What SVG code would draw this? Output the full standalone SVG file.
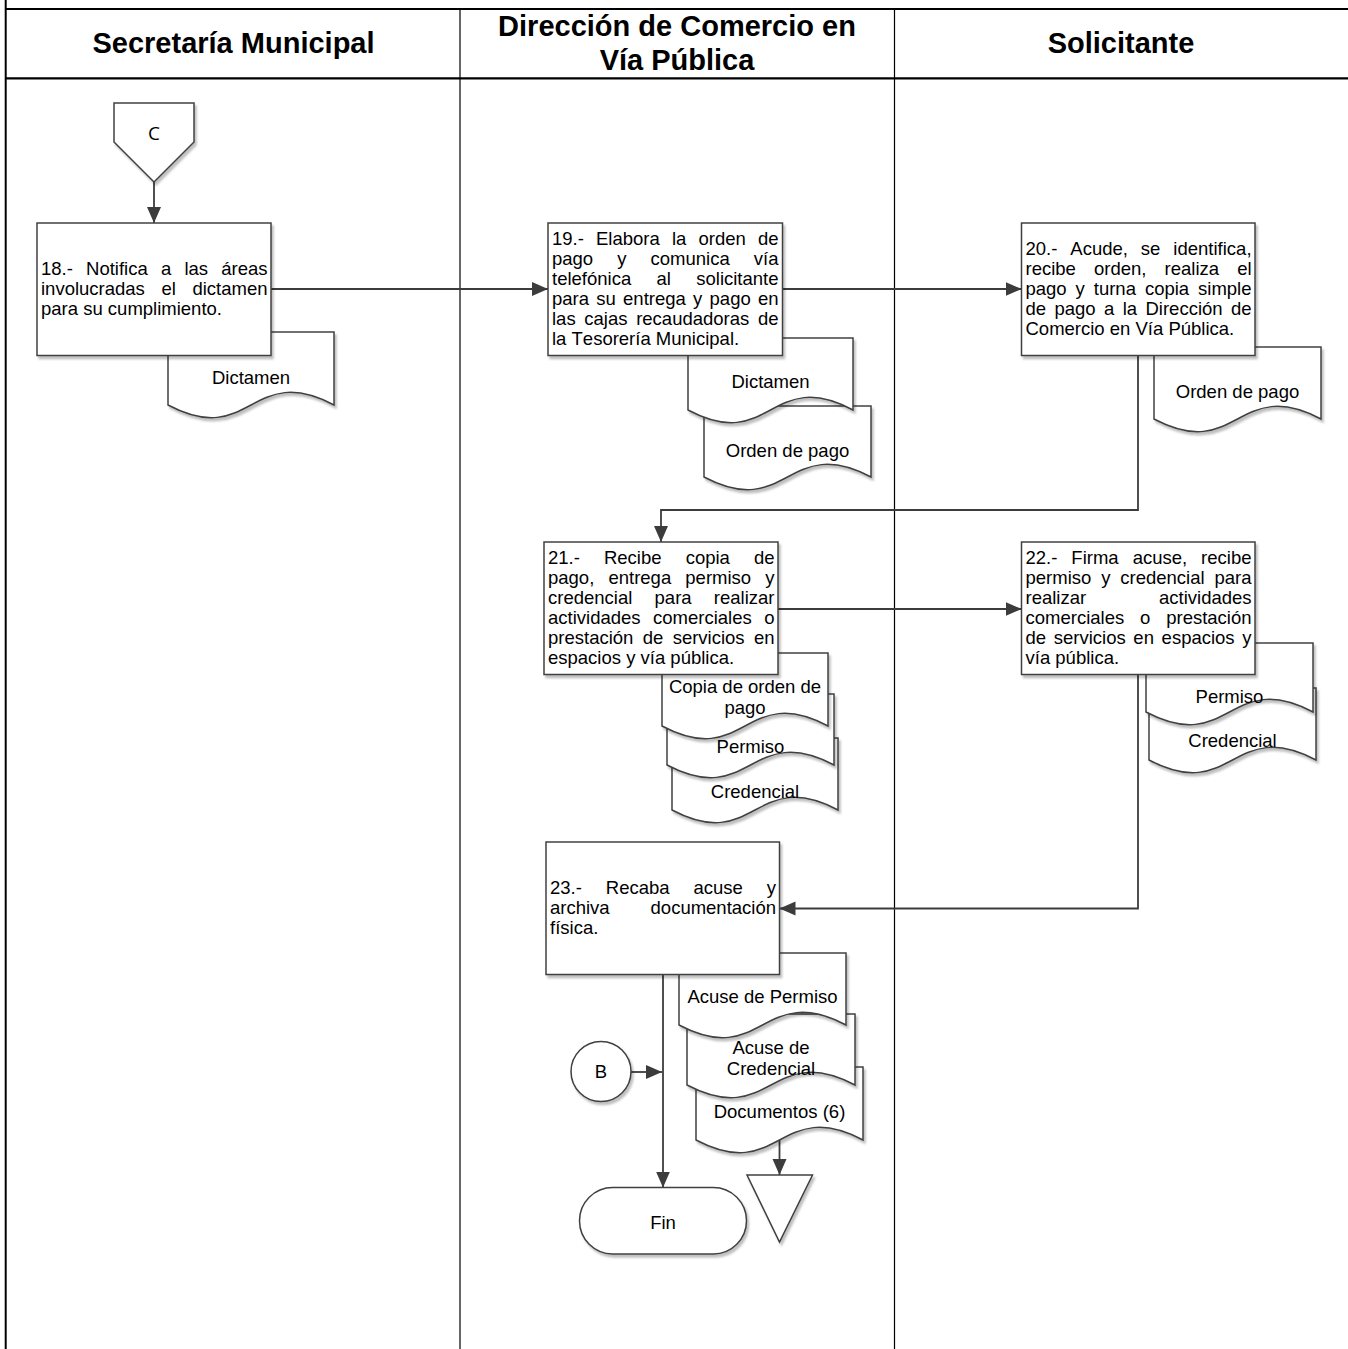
<svg xmlns="http://www.w3.org/2000/svg" width="1348" height="1349" viewBox="0 0 1348 1349">
<style>
.frame{stroke:#000;fill:none}
.shape{fill:#fff;stroke:#404040;stroke-width:1.5;filter:url(#sh)}
.conn{fill:none;stroke:#3c3c3c;stroke-width:1.8}
.t{font-family:"Liberation Sans",Arial,sans-serif;font-size:18.5px;fill:#000;font-kerning:none}
.c{text-anchor:middle}
.h{font-family:"Liberation Sans",Arial,sans-serif;font-weight:bold;font-size:29px;fill:#000;text-anchor:middle;font-kerning:none}
.cl{font-family:"Open Sans","Noto Sans",sans-serif;font-size:19px;fill:#000;text-anchor:middle}
</style>
<defs>
<filter id="sh" x="-10%" y="-10%" width="125%" height="125%">
<feDropShadow dx="2" dy="3" stdDeviation="1.2" flood-color="#000" flood-opacity="0.25"/>
</filter>
<marker id="ah" markerUnits="userSpaceOnUse" markerWidth="17" markerHeight="15" refX="16" refY="7" orient="auto">
<path d="M0,0 L16,7 L0,14 Z" fill="#3c3c3c"/>
</marker>
</defs>
<rect width="1348" height="1349" fill="#fff"/>
<g id="frame">
<line class="frame" x1="5.7" y1="0" x2="5.7" y2="1349" stroke-width="2"/>
<line class="frame" x1="5" y1="9" x2="1348" y2="9" stroke-width="2"/>
<line class="frame" x1="5" y1="78.3" x2="1348" y2="78.3" stroke-width="2.2"/>
<line class="frame" x1="460" y1="9" x2="460" y2="1349" stroke-width="1.2"/>
<line class="frame" x1="894.5" y1="9" x2="894.5" y2="1349" stroke-width="1.2"/>
<text class="h" x="233.5" y="53">Secretaría Municipal</text>
<text class="h" x="677" y="36">Dirección de Comercio en</text>
<text class="h" x="677" y="70">Vía Pública</text>
<text class="h" x="1121" y="53">Solicitante</text>
</g>
<g id="connectors">
<path class="conn" d="M154,182 V223" marker-end="url(#ah)"/>
<path class="conn" d="M271,289 H548" marker-end="url(#ah)"/>
<path class="conn" d="M782.5,289 H1021.5" marker-end="url(#ah)"/>
<path class="conn" d="M1138,355.5 V510 H661 V542" marker-end="url(#ah)"/>
<path class="conn" d="M778,609 H1021.5" marker-end="url(#ah)"/>
<path class="conn" d="M1138,674.5 V908.5 H779.5" marker-end="url(#ah)"/>
<path class="conn" d="M663,974.5 V1187.5" marker-end="url(#ah)"/>
<path class="conn" d="M631,1072 H662" marker-end="url(#ah)"/>
<path class="conn" d="M779.5,1140 V1175" marker-end="url(#ah)"/>
</g>
<g id="conC">
<path class="shape" d="M114,103 H194 V142 L154,182 L114,142 Z"/>
<text class="cl" x="154" y="140">C</text>
</g>
<g id="doc18">
<path class="shape" d="M168,332 H334 V405 C251,361 251,449 168,405 Z"/>
<text class="t c" x="251" y="383.5">Dictamen</text>
</g>
<g id="n18">
<rect class="shape" x="37" y="223" width="234" height="132.5"/>
<text class="t" x="41" y="275" style="word-spacing:8.05px">18.- Notifica a las áreas</text>
<text class="t" x="41" y="295" style="word-spacing:11.46px">involucradas el dictamen</text>
<text class="t" x="41" y="315">para su cumplimiento.</text>
</g>
<g id="doc19b">
<path class="shape" d="M704,406 H871 V477 C787.5,433 787.5,521 704,477 Z"/>
<text class="t c" x="787.5" y="456.5">Orden de pago</text>
</g>
<g id="doc19a">
<path class="shape" d="M688,338 H853 V410 C770.5,366 770.5,454 688,410 Z"/>
<text class="t c" x="770.5" y="388">Dictamen</text>
</g>
<g id="n19">
<rect class="shape" x="548" y="223" width="234.5" height="132.5"/>
<text class="t" x="552" y="245" style="word-spacing:7.01px">19.- Elabora la orden de</text>
<text class="t" x="552" y="265" style="word-spacing:18.95px">pago y comunica vía</text>
<text class="t" x="552" y="285" style="word-spacing:20.19px">telefónica al solicitante</text>
<text class="t" x="552" y="305" style="word-spacing:2.11px">para su entrega y pago en</text>
<text class="t" x="552" y="325" style="word-spacing:3.52px">las cajas recaudadoras de</text>
<text class="t" x="552" y="345">la Tesorería Municipal.</text>
</g>
<g id="doc20">
<path class="shape" d="M1154,347 H1321 V419 C1237.5,375 1237.5,463 1154,419 Z"/>
<text class="t c" x="1237.5" y="398">Orden de pago</text>
</g>
<g id="n20">
<rect class="shape" x="1021.5" y="223" width="233.5" height="132.5"/>
<text class="t" x="1025.5" y="255" style="word-spacing:7.81px">20.- Acude, se identifica,</text>
<text class="t" x="1025.5" y="275" style="word-spacing:12.96px">recibe orden, realiza el</text>
<text class="t" x="1025.5" y="295" style="word-spacing:3.8px">pago y turna copia simple</text>
<text class="t" x="1025.5" y="315" style="word-spacing:3.25px">de pago a la Dirección de</text>
<text class="t" x="1025.5" y="335">Comercio en Vía Pública.</text>
</g>
<g id="doc21c">
<path class="shape" d="M672,738 H838 V810 C755,766 755,854 672,810 Z"/>
<text class="t c" x="755" y="798">Credencial</text>
</g>
<g id="doc21b">
<path class="shape" d="M667,694 H834 V765 C750.5,721 750.5,809 667,765 Z"/>
<text class="t c" x="750.5" y="753">Permiso</text>
</g>
<g id="doc21a">
<path class="shape" d="M662,653 H828 V726 C745,682 745,770 662,726 Z"/>
<text class="t c" x="745" y="692.5">Copia de orden de</text>
<text class="t c" x="745" y="713.5">pago</text>
</g>
<g id="n21">
<rect class="shape" x="544" y="542" width="234" height="132.5"/>
<text class="t" x="548" y="564" style="word-spacing:18.95px">21.- Recibe copia de</text>
<text class="t" x="548" y="584" style="word-spacing:9px">pago, entrega permiso y</text>
<text class="t" x="548" y="604" style="word-spacing:17.12px">credencial para realizar</text>
<text class="t" x="548" y="624" style="word-spacing:7.36px">actividades comerciales o</text>
<text class="t" x="548" y="644" style="word-spacing:4.21px">prestación de servicios en</text>
<text class="t" x="548" y="664">espacios y vía pública.</text>
</g>
<g id="doc22b">
<path class="shape" d="M1149,688 H1316 V760 C1232.5,716 1232.5,804 1149,760 Z"/>
<text class="t c" x="1232.5" y="746.5">Credencial</text>
</g>
<g id="doc22a">
<path class="shape" d="M1146,643 H1313 V712 C1229.5,668 1229.5,756 1146,712 Z"/>
<text class="t c" x="1229.5" y="703">Permiso</text>
</g>
<g id="n22">
<rect class="shape" x="1021.5" y="542" width="233.5" height="132.5"/>
<text class="t" x="1025.5" y="564" style="word-spacing:8.85px">22.- Firma acuse, recibe</text>
<text class="t" x="1025.5" y="584" style="word-spacing:4.74px">permiso y credencial para</text>
<text class="t" x="1025.5" y="604" style="word-spacing:67.68px">realizar actividades</text>
<text class="t" x="1025.5" y="624" style="word-spacing:10.71px">comerciales o prestación</text>
<text class="t" x="1025.5" y="644" style="word-spacing:2.52px">de servicios en espacios y</text>
<text class="t" x="1025.5" y="664">vía pública.</text>
</g>
<g id="doc23c">
<path class="shape" d="M696,1067 H863 V1140 C779.5,1096 779.5,1184 696,1140 Z"/>
<text class="t c" x="779.5" y="1118">Documentos (6)</text>
</g>
<g id="doc23b">
<path class="shape" d="M687,1014 H855 V1085 C771,1041 771,1129 687,1085 Z"/>
<text class="t c" x="771" y="1053.5">Acuse de</text>
<text class="t c" x="771" y="1074.5">Credencial</text>
</g>
<g id="doc23a">
<path class="shape" d="M679,953 H846 V1025 C762.5,981 762.5,1069 679,1025 Z"/>
<text class="t c" x="762.5" y="1003">Acuse de Permiso</text>
</g>
<g id="n23">
<rect class="shape" x="546" y="842" width="233.5" height="132.5"/>
<text class="t" x="550" y="894" style="word-spacing:18.78px">23.- Recaba acuse y</text>
<text class="t" x="550" y="914" style="word-spacing:35.78px">archiva documentación</text>
<text class="t" x="550" y="934">física.</text>
</g>
<g id="conB">
<circle class="shape" cx="601" cy="1071.5" r="30"/>
<text class="t c" x="601" y="1078">B</text>
</g>
<g id="fin">
<rect class="shape" x="579.5" y="1187.5" width="167" height="66.5" rx="33.25"/>
<text class="t c" x="663" y="1229">Fin</text>
</g>
<g id="archive">
<path class="shape" d="M747,1175 H812.5 L779.5,1242 Z"/>
</g>
</svg>
